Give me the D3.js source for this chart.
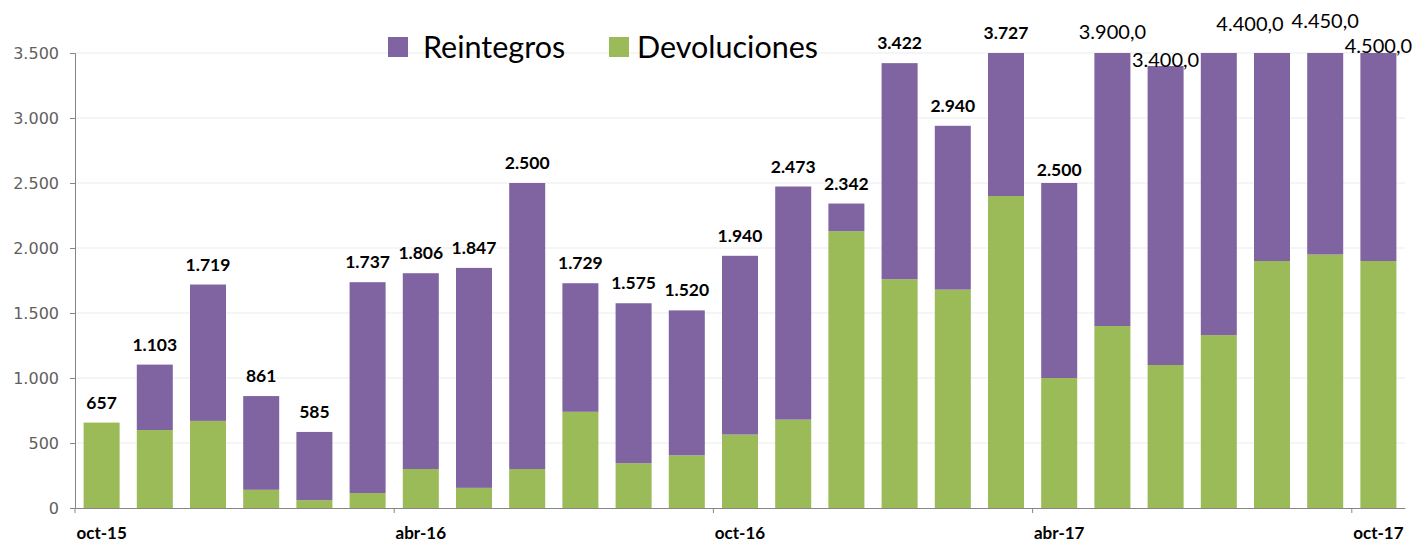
<!DOCTYPE html>
<html>
<head>
<meta charset="utf-8">
<script src="https://cdn.jsdelivr.net/npm/d3@7"></script>
<style>
  body { margin: 0; background: #fff; }
  svg { display: block; }
</style>
</head>
<body>
<div id="chart"></div>
<script>
// months shown on the category axis (one bar per month)
var months = ["oct-15", "nov-15", "dic-15", "ene-16", "feb-16", "mar-16", "abr-16", "may-16", "jun-16",
              "jul-16", "ago-16", "sep-16", "oct-16", "nov-16", "dic-16", "ene-17", "feb-17", "mar-17",
              "abr-17", "may-17", "jun-17", "jul-17", "ago-17", "sep-17", "oct-17"];
var tickMonths = ["oct-15", "abr-16", "oct-16", "abr-17", "oct-17"];

var devoluciones = [657, 600, 670, 140, 60, 115, 300, 155, 300, 740, 345, 405, 565, 680,
                    2130, 1760, 1680, 2400, 1000, 1400, 1100, 1330, 1900, 1950, 1900];
var reintegros = [0, 503, 1049, 721, 525, 1622, 1506, 1692, 2200, 989, 1230, 1115, 1375, 1793,
                  212, 1662, 1260, 1327, 1500, 2500, 2300, 2970, 2500, 2500, 2600];

var yTicks = [0, 500, 1000, 1500, 2000, 2500, 3000, 3500];

// from this month on the labels carry one decimal
var decimalFrom = "may-17";
var hideLabel = ["jul-17"];
// hand placed labels [dx, dy]
var labelNudge = {"abr-17": [0, 7], "jun-17": [0, 15], "ago-17": [-22, -8], "sep-17": [0, -11], "oct-17": [0, 14]};

var colors = {dev: "#9bbb59", rein: "#8064a2"};

var W = 1415, H = 542;
var margin = {top: 53, right: 10, bottom: 34, left: 75},
    width = W - margin.left - margin.right,
    height = H - margin.top - margin.bottom;

var es = d3.formatLocale({decimal: ",", thousands: ".", grouping: [3], currency: ["", ""]});
var fmtInt = es.format(",.0f"), fmtDec = es.format(",.1f");

var data = months.map(function(m, i) {
    return {month: m, dev: devoluciones[i], rein: reintegros[i], total: devoluciones[i] + reintegros[i]};
});

var pad = 0.323;
var x = d3.scaleBand().domain(months).range([0, width]).paddingInner(pad).paddingOuter(pad / 2);
var y = d3.scaleLinear().domain([0, 3500]).range([height, 0]);

var svg = d3.select("#chart").append("svg")
    .attr("width", W)
    .attr("height", H);

var g = svg.append("g")
    .attr("transform", "translate(" + margin.left + "," + margin.top + ")");

svg.append("defs").append("clipPath").attr("id", "plot")
    .append("rect").attr("x", 0).attr("y", 0).attr("width", width).attr("height", height);

// gridlines
g.selectAll(".grid")
    .data(yTicks.slice(1))
    .enter().append("line")
    .attr("x1", 0).attr("x2", width)
    .attr("y1", function(d) { return y(d); })
    .attr("y2", function(d) { return y(d); })
    .attr("stroke", "#ebebeb");

var stack = d3.stack().keys(["dev", "rein"]);

g.append("g").attr("clip-path", "url(#plot)")
  .selectAll(".serie")
    .data(stack(data))
    .enter().append("g")
    .attr("fill", function(d) { return colors[d.key]; })
  .selectAll("rect")
    .data(function(d) { return d; })
    .enter().append("rect")
    .attr("x", function(d) { return x(d.data.month); })
    .attr("width", x.bandwidth())
    .attr("y", function(d) { return y(d[1]); })
    .attr("height", function(d) { return y(d[0]) - y(d[1]); });

// y axis
var yAxis = d3.axisLeft(y).tickValues(yTicks).tickSize(5).tickPadding(11).tickFormat(fmtInt);
var ya = g.append("g").call(yAxis);
ya.select(".domain").attr("stroke", "#868686");
ya.selectAll(".tick line").attr("stroke", "#868686");
ya.selectAll("text")
    .attr("fill", "#5f5f5f")
    .style("font-family", "'DejaVu Sans', sans-serif")
    .style("font-size", "16px");

// x axis: labels centred on the month, ticks at the start of the month
var step = x.step();
var xAxis = d3.axisBottom(x).tickValues(tickMonths).tickSize(0).tickPadding(19);
var xa = g.append("g").attr("transform", "translate(0," + height + ")").call(xAxis);
xa.select(".domain").attr("stroke", "#868686");
xa.selectAll("text")
    .attr("fill", "#000")
    .style("font-family", "Lato, sans-serif")
    .style("font-weight", "bold")
    .style("font-size", "17px");
xa.selectAll(".tick").append("line")
    .attr("x1", -step / 2).attr("x2", -step / 2)
    .attr("y1", 0).attr("y2", 5)
    .attr("stroke", "#868686");

// value labels
function isDec(d) { return months.indexOf(d.month) >= months.indexOf(decimalFrom); }
g.selectAll(".lbl")
    .data(data.filter(function(d) { return hideLabel.indexOf(d.month) < 0; }))
    .enter().append("text")
    .attr("text-anchor", "middle")
    .attr("x", function(d) {
        var n = labelNudge[d.month] || [0, 0];
        return x(d.month) + x.bandwidth() / 2 + n[0];
    })
    .attr("y", function(d) {
        var n = labelNudge[d.month] || [0, 0];
        return y(Math.min(d.total, 3500)) - 14 + n[1];
    })
    .style("font-family", "Lato, sans-serif")
    .style("font-weight", function(d) { return isDec(d) ? "normal" : "bold"; })
    .style("font-size", function(d) { return isDec(d) ? "20px" : "17.5px"; })
    .text(function(d) { return isDec(d) ? fmtDec(d.total) : fmtInt(d.total); });

// legend
var legend = [{name: "Reintegros", key: "rein", x: 388}, {name: "Devoluciones", key: "dev", x: 609}];
var lg = svg.selectAll(".legend")
    .data(legend)
    .enter().append("g")
    .attr("transform", function(d) { return "translate(" + d.x + ",37)"; });
lg.append("rect")
    .attr("width", 20).attr("height", 20)
    .attr("fill", function(d) { return colors[d.key]; });
lg.append("text")
    .attr("x", function(d, i) { return i === 0 ? 35 : 28; })
    .attr("y", 21)
    .style("font-family", "Lato, sans-serif")
    .style("font-size", "30.5px")
    .attr("fill", "#000")
    .text(function(d) { return d.name; });
</script>
</body>
</html>
